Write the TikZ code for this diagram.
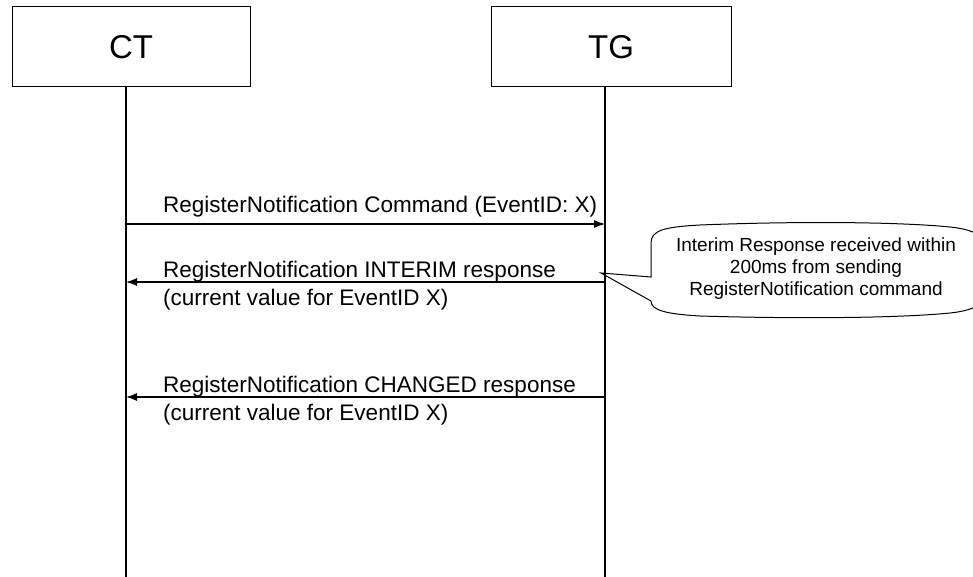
\documentclass[tikz,border=0pt]{standalone}
\usepackage{fontspec}
\setmainfont{Liberation Sans}
\usetikzlibrary{arrows.meta}
\begin{document}
\begin{tikzpicture}[x=1pt,y=-1pt,
  actor/.style={draw,line width=1pt,minimum height=80pt,inner sep=0pt,font=\fontsize{33}{36}\selectfont},
  life/.style={line width=1.2pt},
  msg/.style={line width=1.2pt,-{Latex[length=11pt,width=8pt]}},
  lbl/.style={anchor=base west,inner sep=0pt,font=\fontsize{22.5}{26}\selectfont},
  callout/.style={draw,line width=1pt},
  notetext/.style={align=center,inner sep=0pt,font=\fontsize{19}{22}\selectfont}]
\clip (0,0) rectangle (973,577);
\fill[white] (0,0) rectangle (973,577);
% actors
\node[actor,minimum width=238pt] (CT) at (131,47) {CT};
\node[actor,minimum width=240pt] (TG) at (611,47) {TG};
% lifelines
\coordinate (ctTop) at (126,87);
\coordinate (ctBot) at (126,577);
\coordinate (tgTop) at (605,87);
\coordinate (tgBot) at (605,577);
\draw[life] (ctTop) -- (ctBot);
\draw[life] (tgTop) -- (tgBot);
% message points
\coordinate (m1s) at (126,224);
\coordinate (m1e) at (605,224);
\coordinate (m2s) at (605,282);
\coordinate (m2e) at (126,282);
\coordinate (m3s) at (605,397);
\coordinate (m3e) at (126,397);
\draw[msg] (m1s) -- (m1e);
\draw[msg] (m2s) -- (m2e);
\draw[msg] (m3s) -- (m3e);
% labels
\node[lbl] (l1) at (163,213) {RegisterNotification Command (EventID: X)};
\node[lbl] (l2a) at (163,277) {RegisterNotification INTERIM response};
\node[lbl] (l2b) at (163,305) {(current value for EventID X)};
\node[lbl] (l3a) at (163,392) {RegisterNotification CHANGED response};
\node[lbl] (l3b) at (163,420) {(current value for EventID X)};
% callout
\coordinate (tip) at (601,273);
\draw[callout] (651,277) -- (651,243)
  .. controls (651,230) and (665,227) .. (700,225)
  .. controls (800,221) and (900,222) .. (950,227)
  .. controls (970,229) and (985,235) .. (985,245)
  -- (985,295)
  .. controls (985,305) and (970,311) .. (950,313)
  .. controls (900,318) and (800,319) .. (700,316)
  .. controls (665,314) and (651,310) .. (651,301)
  -- (tip) -- cycle;
\node[notetext] (note) at (816,269) {Interim Response received within\\200ms from sending\\RegisterNotification command};
\end{tikzpicture}
\end{document}
